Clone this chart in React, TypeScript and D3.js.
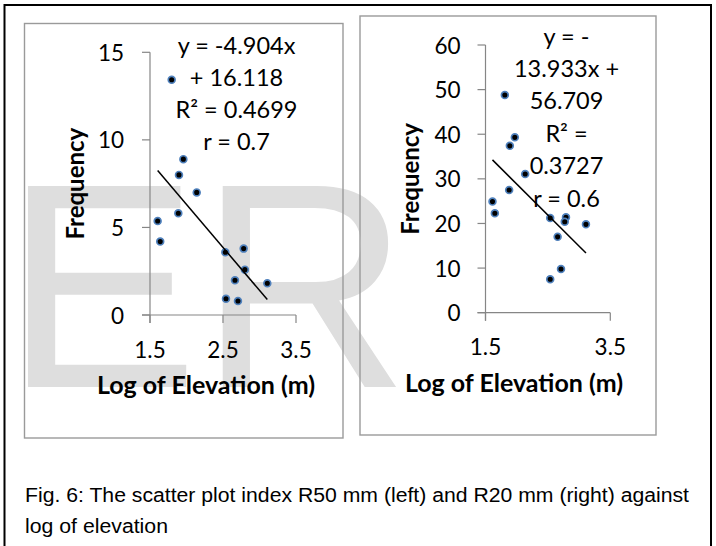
import React from "react";
import * as d3 from "d3";

// ---- data ----
const leftX = [1.797, 1.957, 1.897, 2.14, 1.605, 1.64, 1.888, 2.532, 2.783, 2.8, 2.664, 3.107, 2.541, 2.705];
const leftY = [13.43, 8.9, 8.0, 7.0, 5.37, 4.19, 5.81, 3.58, 3.79, 2.59, 1.98, 1.81, 0.93, 0.8];
const rightX = [1.81, 1.97, 1.89, 2.136, 1.879, 1.612, 1.65, 2.537, 2.79, 2.77, 3.11, 2.656, 2.71, 2.537];
const rightY = [48.8, 39.3, 37.4, 31.1, 27.5, 24.9, 22.3, 21.2, 21.4, 20.4, 19.8, 17.0, 9.8, 7.5];

const leftTrend = { slope: -4.904, intercept: 16.118 };
const rightTrend = { slope: -13.933, intercept: 56.709 };

const leftYTicks = [0, 5, 10, 15];
const leftXTicks = [1.5, 2.5, 3.5];
const rightYTicks = [0, 10, 20, 30, 40, 50, 60];
const rightXTicks = [1.5, 3.5];

const leftEquation = ["y = -4.904x", "+ 16.118", "R² = 0.4699", "r = 0.7"];
const rightEquation = ["y = -", "13.933x +", "56.709", "R² =", "0.3727", "r = 0.6"];

const yTitle = "Frequency";
const xTitle = "Log of Elevation (m)";
const caption1 = "Fig. 6: The scatter plot index R50 mm (left) and R20 mm (right) against";
const caption2 = "log of elevation";

const FONT = "Lato, 'Open Sans', sans-serif";

type PanelProps = {
  xs: number[];
  ys: number[];
  trend: { slope: number; intercept: number };
  xDomain: [number, number];
  yDomain: [number, number];
  xRange: [number, number];
  yRange: [number, number];
  xTicks: number[];
  yTicks: number[];
  box: { x0: number; y0: number; x1: number; y1: number };
  eq: string[];
  eqX: number;
  eqY0: number;
  eqDy: number;
  yTitleX: number;
  xTitleX: number;
  xTitleY: number;
  xTickLabelY: number;
  yLabelGap: number;
};

function Panel(p: PanelProps) {
  const x = d3.scaleLinear().domain(p.xDomain).range(p.xRange);
  const y = d3.scaleLinear().domain(p.yDomain).range(p.yRange);
  const axisColor = "#868686";
  const [xa, xb] = d3.extent(p.xs) as [number, number];
  const line = d3.line<number>().x((v) => x(v)).y((v) => y(p.trend.slope * v + p.trend.intercept));
  const y0 = y(p.yDomain[0]);
  const x0 = x(p.xDomain[0]);
  return (
    <g>
      <rect x={p.box.x0} y={p.box.y0} width={p.box.x1 - p.box.x0} height={p.box.y1 - p.box.y0}
        fill="none" stroke="#9a9a9a" strokeWidth={1.4} />
      {/* y axis */}
      <line x1={x0} x2={x0} y1={y(p.yDomain[1])} y2={y0 + 8} stroke={axisColor} strokeWidth={1.2} />
      {p.yTicks.map((t) => (
        <g key={"yt" + t}>
          <line x1={x0 - 8} x2={x0} y1={y(t)} y2={y(t)} stroke={axisColor} strokeWidth={1.2} />
          <text x={x0 - p.yLabelGap} y={y(t) + 8.5} textAnchor="end" fontFamily={FONT} fontSize={22.5} fill="#000">{t}</text>
        </g>
      ))}
      {/* x axis */}
      <line x1={x0 - 8} x2={x(p.xDomain[1])} y1={y0} y2={y0} stroke={axisColor} strokeWidth={1.2} />
      {p.xTicks.map((t) => (
        <g key={"xt" + t}>
          <line x1={x(t)} x2={x(t)} y1={y0} y2={y0 + 8} stroke={axisColor} strokeWidth={1.2} />
          <text x={x(t)} y={p.xTickLabelY} textAnchor="middle" fontFamily={FONT} fontSize={22.5} fill="#000">{t.toFixed(1)}</text>
        </g>
      ))}
      {/* points */}
      {p.xs.map((v, i) => (
        <circle key={"p" + i} cx={x(v)} cy={y(p.ys[i])} r={3.4} fill="#000" stroke="#4f81bd" strokeWidth={1.7} />
      ))}
      {/* trendline */}
      <path d={line([xa, xb]) || ""} stroke="#000" strokeWidth={1.5} fill="none" />
      {/* equation */}
      {p.eq.map((s, i) => (
        <text key={"eq" + i} x={p.eqX} y={p.eqY0 + i * p.eqDy} textAnchor="middle" fontFamily={FONT} fontSize={23.5} fill="#000">{s}</text>
      ))}
      {/* titles */}
      <text transform={`translate(${p.yTitleX},${(y(p.yDomain[0]) + y(p.yDomain[1])) / 2}) rotate(-90)`}
        textAnchor="middle" fontFamily={FONT} fontWeight={700} fontSize={24} fill="#000">{yTitle}</text>
      <text x={p.xTitleX} y={p.xTitleY} textAnchor="middle" fontFamily={FONT} fontWeight={700} fontSize={25} fill="#000">{xTitle}</text>
    </g>
  );
}

export default function App() {
  return (
    <svg width={716} height={546} style={{ position: "absolute", left: 0, top: 0, background: "#fff" }}>
      <rect x={0} y={0} width={716} height={546} fill="#fff" />
      {/* watermark */}
      <text x={4} y={387} fontFamily="'Liberation Sans', Arial, sans-serif" fontSize={292} fill="#dedede">ER</text>
      {/* outer frame */}
      <rect x={4.5} y={5} width={706.5} height={560} fill="none" stroke="#000" strokeWidth={2} />
      <Panel xs={leftX} ys={leftY} trend={leftTrend}
        xDomain={[1.5, 3.5]} yDomain={[0, 15]} xRange={[150, 296]} yRange={[315, 52.3]}
        xTicks={leftXTicks} yTicks={leftYTicks}
        box={{ x0: 24.5, y0: 23.5, x1: 343, y1: 438 }}
        eq={leftEquation} eqX={236.5} eqY0={53.8} eqDy={31.9}
        yTitleX={84} xTitleX={206} xTitleY={393.5} xTickLabelY={358} yLabelGap={26} />
      <Panel xs={rightX} ys={rightY} trend={rightTrend}
        xDomain={[1.5, 3.5]} yDomain={[0, 60]} xRange={[485.5, 610.3]} yRange={[312.7, 45]}
        xTicks={rightXTicks} yTicks={rightYTicks}
        box={{ x0: 360, y0: 16, x1: 656, y1: 435 }}
        eq={rightEquation} eqX={566.5} eqY0={44.5} eqDy={32.4}
        yTitleX={419} xTitleX={514} xTitleY={391.5} xTickLabelY={355} yLabelGap={25} />
      <text x={25} y={501.7} fontFamily="'Liberation Sans', Arial, sans-serif" fontSize={19.5} fill="#000"
        textLength={664} lengthAdjust="spacingAndGlyphs">{caption1}</text>
      <text x={25} y={533.3} fontFamily="'Liberation Sans', Arial, sans-serif" fontSize={19.5} fill="#000"
        textLength={143} lengthAdjust="spacingAndGlyphs">{caption2}</text>
    </svg>
  );
}
